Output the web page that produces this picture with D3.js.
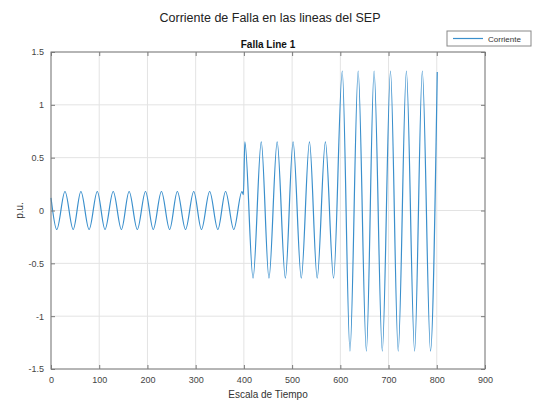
<!DOCTYPE html>
<html><head><meta charset="utf-8">
<script src="https://cdn.jsdelivr.net/npm/d3@7"></script>
<style>body{margin:0;background:#fff;}svg{display:block;font-family:"Liberation Sans",Arial,sans-serif;}</style>
</head><body><svg id="c" width="539" height="404"></svg>
<script>
// Extrema of the current waveform (time, p.u.)
const tiempo = [0,12,29,46,62,79,96,112,129,146,162,179,196,212,229,246,262,279,296,312,329,346,362,379,396,
  399,402,419,436,452,469,486,502,519,536,552,569,586,
  604,620,637,654,670,687,704,720,737,754,770,787,801];
const corriente = [0.12,-0.18,0.18,-0.18,0.18,-0.18,0.18,-0.18,0.18,-0.18,0.18,-0.18,0.18,-0.18,0.18,-0.18,0.18,-0.18,0.18,-0.18,0.18,-0.18,0.18,-0.18,0.18,
  0.15,0.65,-0.64,0.65,-0.64,0.65,-0.64,0.65,-0.64,0.65,-0.64,0.65,-0.64,
  1.32,-1.33,1.32,-1.33,1.32,-1.33,1.32,-1.33,1.32,-1.33,1.32,-1.33,1.31];
const xTicks = [0,100,200,300,400,500,600,700,800,900];
const yTicks = [-1.5,-1,-0.5,0,0.5,1,1.5];
const yTickLabels = ["-1.5","-1","-0.5","0","0.5","1","1.5"];

const svg = d3.select("#c");
const L = 51, R = 485, T = 52, B = 369;
const x = d3.scaleLinear().domain([0,900]).range([L,R]);
const y = d3.scaleLinear().domain([-1.5,1.5]).range([B,T]);

// grid
svg.append("g").selectAll("line").data(xTicks).join("line")
  .attr("x1",d=>x(d)).attr("x2",d=>x(d)).attr("y1",T).attr("y2",B)
  .attr("stroke","#e3e3e3").attr("stroke-width",1);
svg.append("g").selectAll("line").data(yTicks).join("line")
  .attr("y1",d=>y(d)).attr("y2",d=>y(d)).attr("x1",L).attr("x2",R)
  .attr("stroke","#e3e3e3").attr("stroke-width",1);

// line
const data = tiempo.map((t,i)=>[t,corriente[i]]);
svg.append("path").datum(data)
  .attr("d", d3.line().x(d=>x(d[0])).y(d=>y(d[1])).curve(d3.curveMonotoneX))
  .attr("fill","none").attr("stroke","#3a8fcc").attr("stroke-width",1.2);

// axes
const axCol = "#7a7a7a";
function styleAxis(g){
  g.select(".domain").remove();
  g.selectAll(".tick line").attr("stroke",axCol);
  g.selectAll(".tick text").attr("fill","#444").style("font-size","9px").style("font-family","'Liberation Sans',Arial,sans-serif");
}
svg.append("g").attr("transform",`translate(0,${B})`)
  .call(d3.axisBottom(x).tickValues(xTicks).tickSize(-4).tickPadding(8).tickFormat(d3.format("d")))
  .call(styleAxis);
svg.append("g").attr("transform",`translate(0,${T})`)
  .call(d3.axisTop(x).tickValues(xTicks).tickSize(-4).tickFormat(""))
  .call(styleAxis);
svg.append("g").attr("transform",`translate(${L},0)`)
  .call(d3.axisLeft(y).tickValues(yTicks).tickSize(-4).tickPadding(7).tickFormat((d,i)=>yTickLabels[i]))
  .call(styleAxis);
svg.append("g").attr("transform",`translate(${R},0)`)
  .call(d3.axisRight(y).tickValues(yTicks).tickSize(-4).tickFormat(""))
  .call(styleAxis);
svg.append("rect").attr("x",L).attr("y",T).attr("width",R-L).attr("height",B-T)
  .attr("fill","none").attr("stroke",axCol).attr("stroke-width",1);

// titles
svg.append("text").attr("x",270).attr("y",22).attr("text-anchor","middle")
  .style("font-size","12.5px").attr("fill","#222").text("Corriente de Falla en las lineas del SEP");
svg.append("text").attr("x",(L+R)/2).attr("y",48).attr("text-anchor","middle")
  .style("font-size","10px").style("font-weight","bold").attr("fill","#111").text("Falla Line 1");
svg.append("text").attr("x",(L+R)/2).attr("y",398).attr("text-anchor","middle")
  .style("font-size","10px").attr("fill","#333").text("Escala de Tiempo");
svg.append("text").attr("transform",`translate(23,${(T+B)/2}) rotate(-90)`).attr("text-anchor","middle")
  .style("font-size","10px").attr("fill","#333").text("p.u.");

// legend
const lg = svg.append("g");
lg.append("rect").attr("x",447).attr("y",31).attr("width",84).attr("height",15)
  .attr("fill","#fff").attr("stroke","#888").attr("stroke-width",1);
lg.append("line").attr("x1",453).attr("x2",483).attr("y1",38.5).attr("y2",38.5)
  .attr("stroke","#3a8fcc").attr("stroke-width",1.2);
lg.append("text").attr("x",488).attr("y",41.5).style("font-size","8px").attr("fill","#333").text("Corriente");
</script></body></html>
